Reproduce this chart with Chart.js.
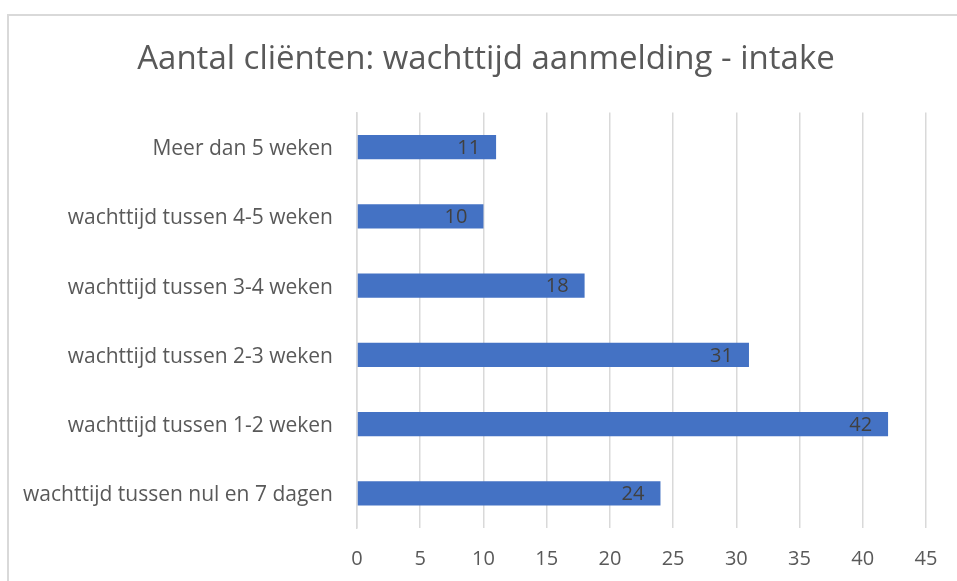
<!DOCTYPE html>
<html>
<head>
<meta charset="utf-8">
<script src="https://cdn.jsdelivr.net/npm/chart.js@4"></script>
<style>
  html, body { margin: 0; padding: 0; background: #fff; overflow: hidden; }
  #wrap { position: relative; width: 957px; height: 581px; }
  #frame { position: absolute; left: 7px; top: 14px; width: 1000px; height: 1000px;
           border: 2px solid #d9d9d9; pointer-events: none; }
</style>
</head>
<body>
<div id="wrap">
  <canvas id="wachttijdChart" width="957" height="581"></canvas>
  <div id="frame"></div>
</div>
<script>
// data
var categories = [
    'Meer dan 5 weken',
    'wachttijd tussen 4-5 weken',
    'wachttijd tussen 3-4 weken',
    'wachttijd tussen 2-3 weken',
    'wachttijd tussen 1-2 weken',
    'wachttijd tussen nul en 7 dagen'
];
var clienten = [11, 10, 18, 31, 42, 24];
var xTicks = [0, 5, 10, 15, 20, 25, 30, 35, 40, 45];

var colors = {
    bar: '#4472C4',
    text: '#595959',
    label: '#404040',
    grid: '#d9d9d9'
};

var fontFamily = '"Open Sans", sans-serif';

// value labels at the inner end of each bar
var barLabels = {
    id: 'barLabels',
    afterDatasetsDraw: function (chart) {
        var ctx = chart.ctx;
        var meta = chart.getDatasetMeta(0);
        ctx.save();
        ctx.font = '20px ' + fontFamily;
        ctx.fillStyle = colors.label;
        ctx.textAlign = 'right';
        ctx.textBaseline = 'middle';
        meta.data.forEach(function (bar, i) {
            ctx.fillText(String(clienten[i]), bar.x - 16, bar.y + 1);
        });
        ctx.restore();
    }
};

// the original title sits a bit right of the canvas centre
var titleShift = {
    id: 'titleShift',
    afterLayout: function (chart) {
        if (chart.titleBlock) {
            chart.titleBlock.left = 46;
        }
    }
};

function buildChart() {
    var ctx = document.getElementById('wachttijdChart').getContext('2d');
    new Chart(ctx, {
        type: 'bar',
        data: {
            labels: categories,
            datasets: [{
                data: clienten,
                backgroundColor: colors.bar,
                borderWidth: 0,
                categoryPercentage: 1,
                barPercentage: 0.35
            }]
        },
        options: {
            indexAxis: 'y',
            responsive: false,
            animation: false,
            layout: { padding: { left: 0, right: 31, top: 0, bottom: 0 } },
            plugins: {
                legend: { display: false },
                tooltip: { enabled: false },
                title: {
                    display: true,
                    text: 'Aantal cliënten: wachttijd aanmelding - intake',
                    color: colors.text,
                    font: { family: fontFamily, size: 33, weight: 'normal' },
                    padding: { top: 40, bottom: 33 }
                }
            },
            scales: {
                x: {
                    min: 0,
                    max: 45,
                    afterBuildTicks: function (scale) {
                        scale.ticks = xTicks.map(function (v) { return { value: v }; });
                    },
                    afterFit: function (scale) { scale.height = 53; },
                    grid: { color: colors.grid, lineWidth: 1.5, drawTicks: false },
                    border: { display: false },
                    ticks: {
                        color: colors.text,
                        padding: 19,
                        font: { family: fontFamily, size: 20 }
                    }
                },
                y: {
                    afterFit: function (scale) { scale.width = 357; },
                    grid: { display: false, drawTicks: false },
                    border: { display: true, color: colors.grid, width: 1.5 },
                    ticks: {
                        color: colors.text,
                        padding: 24,
                        labelOffset: 2,
                        font: { family: fontFamily, size: 21 }
                    }
                }
            }
        },
        plugins: [barLabels, titleShift]
    });
}

buildChart();
</script>
</body>
</html>
